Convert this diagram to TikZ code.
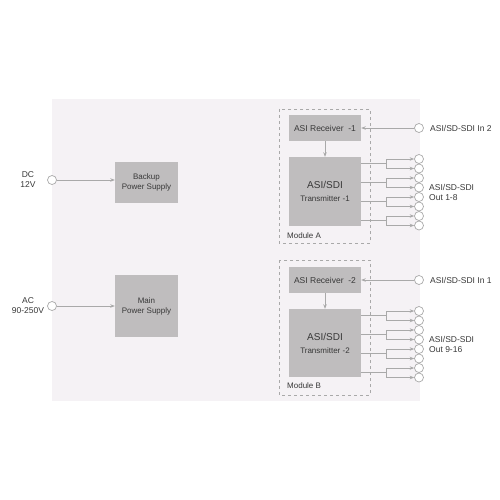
\documentclass[tikz,border=0pt]{standalone}
\usepackage{fontspec}
\setmainfont{Liberation Sans}
\usetikzlibrary{arrows.meta}
\definecolor{panelbg}{HTML}{F5F2F5}
\definecolor{boxgray}{HTML}{BFBDBE}
\definecolor{linegray}{HTML}{A9A9A9}
\definecolor{txtgray}{HTML}{383838}

\begin{document}
\begin{tikzpicture}[x=1pt, y=-1pt,
    block/.style={fill=boxgray, text=txtgray, align=center, minimum width=72pt, inner sep=0pt},
    port/.style={circle, draw=linegray, fill=white, line width=0.7pt, minimum size=9pt, inner sep=0pt},
    wire/.style={draw=linegray, line width=0.8pt},
    arr/.style={wire, -{Stealth[length=4.5pt, width=3.5pt]}},
    module/.style={draw=linegray, dashed, line width=0.8pt},
    label/.style={text=txtgray, font=\fontsize{8.5}{10}\selectfont, inner sep=0pt}]
    \useasboundingbox (0,0) rectangle (500,500);
    \fill[panelbg] (52,99) rectangle (420,401);

    % power supplies
    \node[block, minimum width=63pt, minimum height=41pt, font=\fontsize{8}{10}\selectfont] (backup) at (146.5,182.5) {Backup\\Power Supply};
    \node[block, minimum width=63pt, minimum height=62pt, font=\fontsize{8}{10}\selectfont] (mainps) at (146.5,306) {Main\\Power Supply};
    \node[port] (dcin) at (52,180) {};
    \node[port] (acin) at (52,306) {};
    \node[label, align=center] (dclbl) at (28,180) {DC\\12V};
    \node[label, align=center] (aclbl) at (28,306) {AC\\90-250V};
    \draw[arr] (dcin) -- (dcin -| backup.west);
    \draw[arr] (acin) -- (mainps);

    % module A
    \draw[module] (279,109) rectangle (370,243);
    \node[label, anchor=west, font=\fontsize{8}{10}\selectfont] (modA) at (287,236) {Module A};
    \node[block, minimum height=26pt, font=\fontsize{8.5}{10}\selectfont] (rxA) at (325,128) {ASI Receiver \ -1};
    \node[block, minimum height=69pt] (txA) at (325,191.5) {{\fontsize{10}{12}\selectfont ASI/SDI}\\[1pt]{\fontsize{8}{10}\selectfont Transmitter -1}};
    \node[port] (inA) at (419,128) {};
    \node[label, anchor=west] (inAlbl) at (430,128) {ASI/SD-SDI In 2};
    \draw[arr] (inA) -- (rxA);
    \draw[arr] (rxA) -- (txA);
    \foreach \k in {1,...,4} {
        \pgfmathsetmacro{\ytop}{159+19*(\k-1)}
        \node[port] (outA\k a) at (419,\ytop) {};
        \node[port] (outA\k b) at (419,\ytop+9.5) {};
        \coordinate (brA\k) at (386,\ytop+4.5);
        \draw[wire] (txA.east |- brA\k) -- (brA\k);
        \draw[arr] (brA\k) |- (outA\k a);
        \draw[arr] (brA\k) |- (outA\k b);
    }
    \node[label, anchor=west, align=left] (outAlbl) at (429,192) {ASI/SD-SDI\\Out 1-8};

    % module B
    \draw[module] (279,260) rectangle (370,395);
    \node[label, anchor=west, font=\fontsize{8}{10}\selectfont] (modB) at (287,386) {Module B};
    \node[block, minimum height=26pt, font=\fontsize{8.5}{10}\selectfont] (rxB) at (325,280) {ASI Receiver \ -2};
    \node[block, minimum height=68pt] (txB) at (325,343) {{\fontsize{10}{12}\selectfont ASI/SDI}\\[1pt]{\fontsize{8}{10}\selectfont Transmitter -2}};
    \node[port] (inB) at (419,280) {};
    \node[label, anchor=west] (inBlbl) at (430,280) {ASI/SD-SDI In 1};
    \draw[arr] (inB) -- (rxB);
    \draw[arr] (rxB) -- (txB);
    \foreach \k in {1,...,4} {
        \pgfmathsetmacro{\ytop}{311+19*(\k-1)}
        \node[port] (outB\k a) at (419,\ytop) {};
        \node[port] (outB\k b) at (419,\ytop+9.5) {};
        \coordinate (brB\k) at (386,\ytop+4.5);
        \draw[wire] (txB.east |- brB\k) -- (brB\k);
        \draw[arr] (brB\k) |- (outB\k a);
        \draw[arr] (brB\k) |- (outB\k b);
    }
    \node[label, anchor=west, align=left] (outBlbl) at (429,344) {ASI/SD-SDI\\Out 9-16};
\end{tikzpicture}
\end{document}
